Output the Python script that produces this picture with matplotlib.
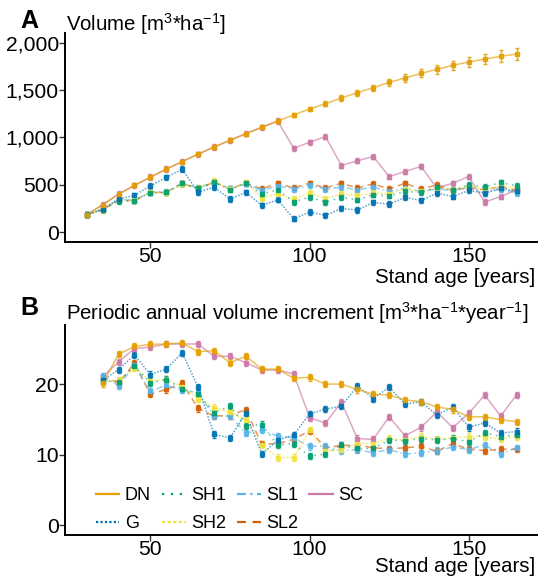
import matplotlib
matplotlib.use("Agg")
import matplotlib.pyplot as plt
from matplotlib.lines import Line2D
from matplotlib.ticker import FuncFormatter

plt.rcParams['font.family'] = ['Liberation Sans', 'DejaVu Sans']
plt.rcParams['mathtext.fontset'] = 'custom'
plt.rcParams['mathtext.rm'] = 'Liberation Sans'
plt.rcParams['mathtext.it'] = 'Liberation Sans:italic'
plt.rcParams['mathtext.bf'] = 'Liberation Sans:bold'

# ---------------- data ----------------
ages_a = [30, 35, 40, 45, 50, 55, 60, 65, 70, 75, 80, 85, 90, 95, 100, 105,
          110, 115, 120, 125, 130, 135, 140, 145, 150, 155, 160, 165]
ages_b = ages_a[1:]

series = ["DN", "G", "SH1", "SH2", "SL1", "SL2", "SC"]
colors = {"DN": "#E69F00", "G": "#0072B2", "SH1": "#009E73", "SH2": "#F0E442",
          "SL1": "#56B4E9", "SL2": "#D55E00", "SC": "#CC79A7"}
styles = {"DN": "-", "G": (0, (1, 1)), "SH1": (0, (1, 3)), "SH2": (0, (1.5, 1)),
          "SL1": (0, (4, 2, 1, 2)), "SL2": (0, (4, 3)), "SC": "-"}

# Panel A: volume [m3/ha]
vol_DN = [184, 290, 402, 494, 582, 666, 746, 824, 900, 970, 1041, 1108, 1174, 1238,
          1301, 1357, 1417, 1473, 1526, 1582, 1628, 1677, 1719, 1762, 1797, 1828, 1857, 1881]
vol_G = [184, 245, 350, 388, 490, 578, 666, 420, 476, 350, 420, 283, 343, 142,
         213, 177, 251, 234, 314, 297, 367, 335, 413, 377, 441, 413, 466, 430]
vol_SH1 = [184, 238, 330, 332, 418, 420, 515, 462, 525, 450, 518, 402, 448, 320,
           371, 318, 367, 343, 395, 385, 430, 420, 476, 441, 500, 476, 525, 490]
vol_SH2 = [184, 235, 340, 338, 422, 418, 505, 470, 540, 455, 525, 360, 406, 350,
           413, 353, 406, 388, 413, 406, 455, 430, 466, 448, 483, 455, 476, 466]
vol_SL1 = [184, 240, 345, 340, 425, 425, 512, 468, 530, 462, 511, 441, 490, 455,
           500, 455, 476, 448, 476, 430, 466, 430, 455, 441, 476, 413, 455, 413]
vol_SL2 = [184, 237, 335, 335, 420, 420, 518, 455, 529, 458, 518, 458, 518, 466,
           518, 466, 518, 466, 511, 455, 518, 455, 500, 441, 472, 448, 483, 441]
vol_SC = [184, 290, 402, 494, 582, 666, 746, 824, 900, 970, 1041, 1108, 1174, 887,
          950, 1010, 704, 754, 799, 588, 641, 694, 466, 518, 588, 318, 377, 448]
err_A = {"DN": [8, 10, 12, 14, 15, 16, 17, 18, 19, 20, 21, 22, 23, 24, 25, 27,
                29, 31, 33, 35, 38, 41, 44, 48, 52, 57, 62, 68]}
err_A_other = 28

# Panel B: periodic annual increment [m3/ha/yr]
pai_DN = [20.15, 24.3, 25.4, 25.7, 25.75, 25.9, 24.65, 24.8, 23.1, 24.0, 22.2, 22.15,
          20.9, 21.0, 20.05, 20.05, 19.3, 18.6, 18.5, 17.8, 17.55, 16.8, 16.45, 15.4,
          15.4, 15.0, 14.7]
pai_G = [20.6, 22.1, 24.2, 21.4, 22.2, 24.5, 19.6, 12.9, 12.4, 15.9, 10.1, 12.1,
         12.8, 15.8, 16.5, 16.9, 19.8, 18.0, 19.6, 17.2, 17.55, 15.65, 16.8, 13.9,
         14.55, 13.1, 13.3]
pai_SH1 = [20.5, 20.4, 22.6, 20.25, 20.7, 19.4, 18.7, 16.0, 16.9, 14.1, 14.3, 11.4,
           11.6, 9.8, 10.1, 11.4, 10.9, 10.9, 12.1, 12.0, 12.3, 12.1, 12.3, 11.85,
           13.1, 12.6, 12.8]
pai_SH2 = [20.4, 20.6, 22.4, 20.5, 20.7, 19.7, 18.0, 16.7, 16.1, 14.9, 11.4, 9.6,
           9.6, 13.5, 10.5, 10.75, 11.6, 11.6, 12.3, 12.1, 12.6, 12.2, 12.4, 12.6,
           12.6, 12.2, 12.6]
pai_SL1 = [21.2, 19.8, 22.75, 19.0, 19.9, 19.2, 18.8, 15.5, 15.5, 13.1, 13.5, 12.65,
           12.4, 11.2, 11.2, 10.6, 10.75, 10.3, 10.75, 10.1, 10.3, 10.6, 11.1, 10.75,
           11.4, 10.1, 11.0]
pai_SL2 = [21.1, 20.25, 23.0, 18.6, 19.3, 20.15, 16.6, 15.5, 15.6, 16.4, 11.5, 11.6,
           12.2, 13.4, 11.05, 11.3, 11.4, 11.0, 10.85, 11.0, 11.2, 10.5, 11.6, 10.8,
           10.6, 10.8, 10.8]
pai_SC = [21.1, 23.2, 25.1, 25.3, 25.75, 25.75, 25.75, 24.0, 24.0, 23.1, 22.05, 22.05,
          21.5, 15.3, 14.5, 17.5, 12.3, 12.2, 15.4, 12.7, 13.9, 16.1, 13.85, 15.9,
          18.5, 15.5, 18.5]
err_B = 0.45

vol = {"DN": vol_DN, "G": vol_G, "SH1": vol_SH1, "SH2": vol_SH2,
       "SL1": vol_SL1, "SL2": vol_SL2, "SC": vol_SC}
pai = {"DN": pai_DN, "G": pai_G, "SH1": pai_SH1, "SH2": pai_SH2,
       "SL1": pai_SL1, "SL2": pai_SL2, "SC": pai_SC}

draw_order = ["SC", "SL2", "SL1", "SH2", "SH1", "G", "DN"]

# ---------------- figure ----------------
W, H = 538, 579
fig = plt.figure(figsize=(W / 100, H / 100), dpi=100)

def px_axes(left, top, right, bottom):
    return fig.add_axes([left / W, 1 - bottom / H, (right - left) / W, (bottom - top) / H])

axA = px_axes(65.2, 33.3, 538, 241.7)
axB = px_axes(65.2, 325, 538, 535)

FS = 14.7
TFS = 15.2

def style_axes(ax):
    for s in ["top", "right"]:
        ax.spines[s].set_visible(False)
    for s in ["left", "bottom"]:
        ax.spines[s].set_linewidth(1.4)
        ax.spines[s].set_color("black")
    ax.tick_params(axis="both", length=4, width=1.0, color="#333333",
                   labelsize=TFS, labelcolor="black", pad=0.5)
    ax.tick_params(axis="x", pad=-0.5)
    ax.set_xlim(23.25, 171.75)
    ax.set_xticks([50, 100, 150])

def draw(ax, x, data, errs):
    for s in draw_order:
        e = errs[s]
        ax.plot(x, data[s], color=colors[s], linestyle=styles[s], lw=1.1, alpha=0.65,
                zorder=2)
        ax.errorbar(x, data[s], yerr=e, fmt="s", color=colors[s], ms=2.8,
                    elinewidth=1.0, capsize=1.5, capthick=1.0, zorder=3, alpha=0.9)

errsA = {s: ([err_A_other] * len(ages_a) if s != "DN" else err_A["DN"]) for s in series}
draw(axA, ages_a, vol, errsA)
style_axes(axA)
axA.set_ylim(-100, 2100)
axA.set_yticks([0, 500, 1000, 1500, 2000])
axA.yaxis.set_major_formatter(FuncFormatter(lambda v, p: f"{v:,.0f}"))

errsB = {s: [err_B] * len(ages_b) for s in series}
draw(axB, ages_b, pai, errsB)
style_axes(axB)
axB.set_ylim(-1.4, 28.45)
axB.set_yticks([0, 10, 20])

# legend
handles = [Line2D([], [], color=colors[s], linestyle=styles[s], lw=1.6) for s in series]
axB.legend(handles, series, ncol=4, loc="lower left", bbox_to_anchor=(0.065, 0.012),
           frameon=False, fontsize=13, handlelength=1.3, handletextpad=0.3,
           columnspacing=0.62, labelspacing=0.62, borderaxespad=0, borderpad=0)

def ftext(x, y, s, **kw):
    fig.text(x / W, 1 - y / H, s, va="baseline", **kw)

ftext(20.6, 28.5, "A", fontsize=18, fontweight="bold")
ftext(65.9, 31, r"Volume [m$^{3}$*ha$^{-1}$]", fontsize=FS)
ftext(535.3, 283.3, "Stand age [years]", fontsize=FS, ha="right")

ftext(20.6, 315, "B", fontsize=18, fontweight="bold")
ftext(65.9, 319.3, r"Periodic annual volume increment [m$^{3}$*ha$^{-1}$*year$^{-1}$]",
      fontsize=FS)
ftext(535.3, 572, "Stand age [years]", fontsize=FS, ha="right")

fig.savefig("out.png", dpi=100)
